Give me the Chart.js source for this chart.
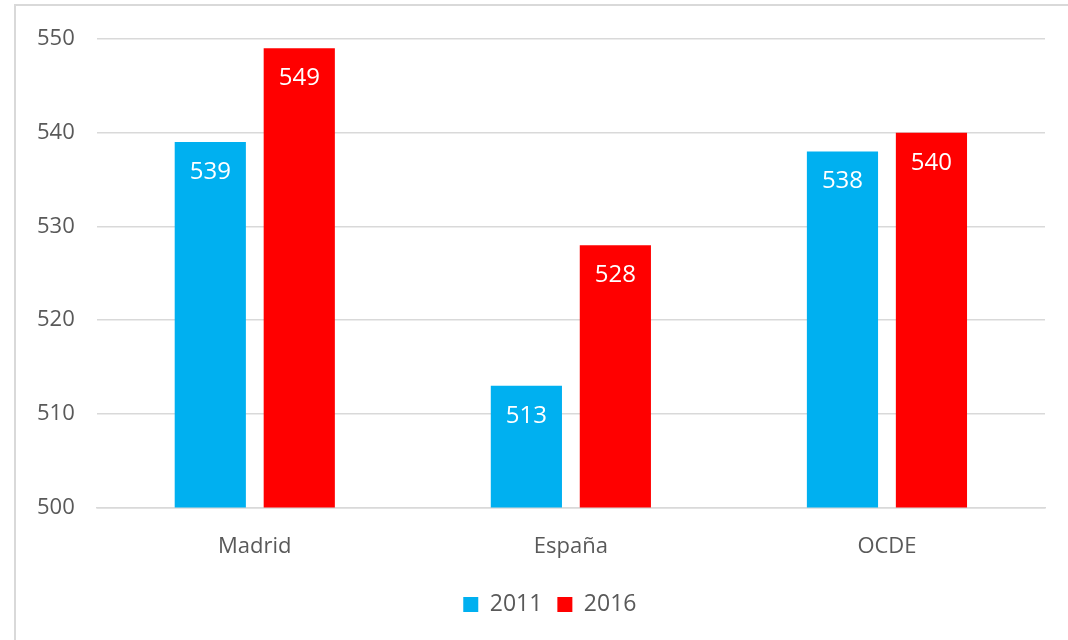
<!DOCTYPE html>
<html>
<head>
<meta charset="utf-8">
<script src="https://cdn.jsdelivr.net/npm/chart.js@4"></script>
<style>
  html, body { margin: 0; padding: 0; background: #fff; }
  #wrap { position: relative; width: 1068px; height: 640px; }
  #frame {
    position: absolute; left: 14px; top: 4px; width: 1060px; height: 640px;
    border: 2px solid #d9d9d9; box-sizing: border-box; pointer-events: none;
  }
  canvas { position: absolute; left: 0; top: 0; }
</style>
</head>
<body>
<div id="wrap">
  <div id="frame"></div>
  <canvas id="chart" width="1068" height="640"></canvas>
</div>
<script>
const categories = ['Madrid', 'España', 'OCDE'];
const values2011 = [539, 513, 538];
const values2016 = [549, 528, 540];
const seriesNames = ['2011', '2016'];
const yTicks = [500, 510, 520, 530, 540, 550];

const blue = '#00b0f0';
const red = '#ff0000';
const grey = '#595959';
const fontFamily = '"Open Sans", "Noto Sans", sans-serif';

// etiquetas blancas dentro de la barra, arriba
const barLabels = {
  id: 'barLabels',
  afterDatasetsDraw(chart) {
    const c = chart.ctx;
    c.save();
    c.fillStyle = '#ffffff';
    c.font = '24px ' + fontFamily;
    c.textAlign = 'center';
    c.textBaseline = 'middle';
    chart.data.datasets.forEach((ds, i) => {
      chart.getDatasetMeta(i).data.forEach((bar, j) => {
        c.fillText(String(ds.data[j]), bar.x, bar.y + 30);
      });
    });
    c.restore();
  }
};

// la leyenda queda un poco a la izquierda del centro del área
const legendShift = {
  id: 'legendShift',
  afterLayout(chart) {
    chart.legend.left -= 21;
    chart.legend.right -= 21;
  }
};

new Chart(document.getElementById('chart').getContext('2d'), {
  type: 'bar',
  data: {
    labels: categories,
    datasets: [
      { label: seriesNames[0], data: values2011, backgroundColor: blue },
      { label: seriesNames[1], data: values2016, backgroundColor: red }
    ]
  },
  options: {
    responsive: false,
    animation: false,
    devicePixelRatio: 1,
    categoryPercentage: 0.563,
    barPercentage: 0.8,
    layout: { padding: { left: 15, right: 23, top: 39, bottom: 14 } },
    plugins: {
      legend: {
        position: 'bottom',
        fullSize: false,
        labels: {
          boxWidth: 15, boxHeight: 15, padding: 15,
          color: grey,
          font: { family: fontFamily, size: 23 }
        }
      },
      tooltip: { enabled: false }
    },
    scales: {
      y: {
        min: 500, max: 550,
        afterBuildTicks: (axis) => { axis.ticks = yTicks.map(v => ({ value: v })); },
        grid: { color: '#d9d9d9', lineWidth: 1.5, drawTicks: false },
        border: { display: false },
        ticks: { color: grey, padding: 22, font: { family: fontFamily, size: 22 } }
      },
      x: {
        grid: { display: false },
        border: { color: '#d9d9d9', width: 1.5 },
        ticks: { color: grey, padding: 18, font: { family: fontFamily, size: 22 } }
      }
    }
  },
  plugins: [barLabels, legendShift]
});
</script>
</body>
</html>
